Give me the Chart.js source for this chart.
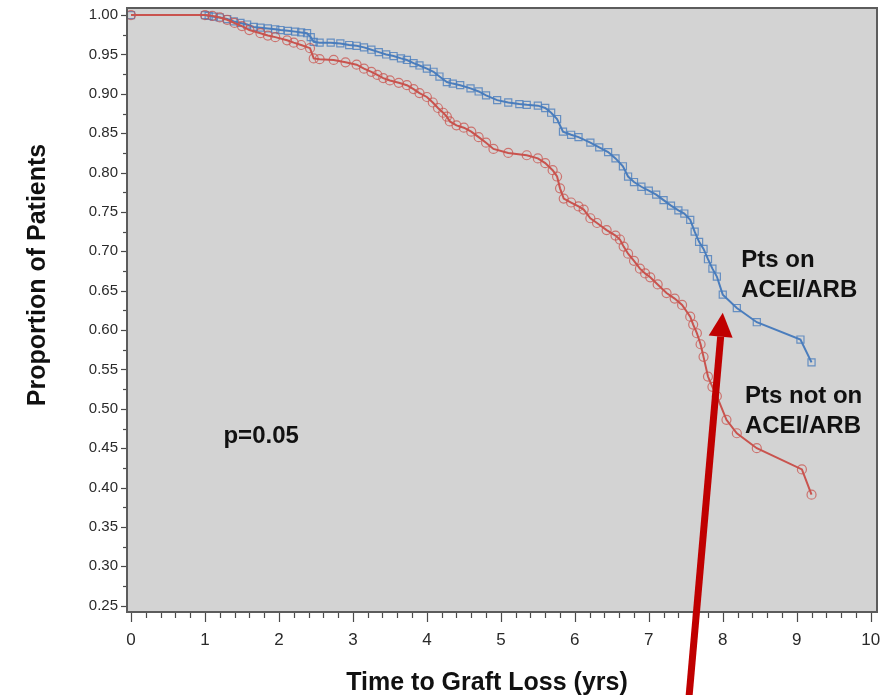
<!DOCTYPE html>
<html>
<head>
<meta charset="utf-8">
<script src="https://cdn.jsdelivr.net/npm/chart.js@4.4.1/dist/chart.umd.min.js"></script>
<style>
  html, body { margin: 0; padding: 0; background: #ffffff; }
  #wrap { width: 884px; height: 695px; position: relative; }
</style>
</head>
<body>
<div id="wrap"><canvas id="kmChart" width="884" height="695"></canvas></div>
<script>
// Kaplan-Meier style curves
const onTimes = [0, 1.0, 1.05, 1.12, 1.2, 1.3, 1.39, 1.48, 1.57, 1.66, 1.75, 1.85, 1.95, 2.02, 2.12, 2.22, 2.3, 2.38, 2.43, 2.47, 2.55, 2.7, 2.83, 2.95, 3.05, 3.15, 3.25, 3.35, 3.45, 3.55, 3.65, 3.73, 3.82, 3.9, 4.0, 4.09, 4.17, 4.27, 4.35, 4.45, 4.59, 4.7, 4.8, 4.95, 5.1, 5.25, 5.35, 5.5, 5.6, 5.68, 5.76, 5.84, 5.95, 6.05, 6.21, 6.33, 6.45, 6.55, 6.65, 6.72, 6.8, 6.9, 7.0, 7.1, 7.2, 7.3, 7.4, 7.48, 7.56, 7.62, 7.68, 7.74, 7.8, 7.86, 7.92, 8.0, 8.19, 8.46, 9.05, 9.2];
const onSurv = [1.0, 1.0, 0.999, 0.998, 0.997, 0.995, 0.992, 0.99, 0.988, 0.985, 0.984, 0.983, 0.982, 0.981, 0.98, 0.979, 0.978, 0.977, 0.972, 0.966, 0.965, 0.965, 0.964, 0.962, 0.961, 0.959, 0.956, 0.953, 0.95, 0.948, 0.945, 0.943, 0.939, 0.936, 0.932, 0.928, 0.922, 0.915, 0.913, 0.911, 0.907, 0.903, 0.898, 0.892, 0.889, 0.887, 0.886, 0.885, 0.882, 0.876, 0.868, 0.852, 0.848, 0.845, 0.838, 0.832, 0.826, 0.818, 0.808, 0.795, 0.788, 0.782, 0.777, 0.772, 0.765, 0.758, 0.752, 0.748, 0.74, 0.725, 0.712, 0.703, 0.69, 0.678, 0.668, 0.645, 0.628, 0.61, 0.588, 0.559];

const offTimes = [0, 1.0, 1.1, 1.2, 1.3, 1.4, 1.5, 1.6, 1.75, 1.85, 1.95, 2.11, 2.2, 2.3, 2.42, 2.47, 2.55, 2.74, 2.9, 3.05, 3.15, 3.25, 3.33, 3.41, 3.5, 3.62, 3.73, 3.82, 3.9, 4.0, 4.08, 4.15, 4.22, 4.27, 4.31, 4.4, 4.5, 4.6, 4.7, 4.8, 4.9, 5.1, 5.35, 5.5, 5.6, 5.7, 5.76, 5.8, 5.85, 5.95, 6.05, 6.12, 6.21, 6.3, 6.43, 6.55, 6.61, 6.66, 6.72, 6.8, 6.88, 6.95, 7.02, 7.12, 7.24, 7.35, 7.45, 7.56, 7.6, 7.65, 7.7, 7.74, 7.8, 7.86, 7.92, 8.05, 8.19, 8.46, 9.07, 9.2];
const offSurv = [1.0, 1.0, 0.999, 0.997, 0.994, 0.99, 0.986, 0.981, 0.977, 0.974, 0.972, 0.968, 0.965, 0.962, 0.958, 0.945, 0.944, 0.943, 0.94, 0.937, 0.932, 0.928, 0.924, 0.92, 0.917, 0.914, 0.911, 0.906, 0.901, 0.896, 0.889, 0.882, 0.876, 0.871, 0.865, 0.86, 0.857, 0.852, 0.845, 0.838, 0.83, 0.825, 0.822, 0.818, 0.812, 0.803, 0.795, 0.78, 0.767, 0.762, 0.757, 0.753, 0.742, 0.736, 0.727, 0.72, 0.715, 0.706, 0.697, 0.688, 0.678, 0.672, 0.667, 0.658, 0.647, 0.64, 0.632, 0.617, 0.607, 0.596, 0.582, 0.566, 0.541, 0.528, 0.516, 0.486, 0.469, 0.45, 0.423, 0.391];

const yTickValues = [0.25, 0.30, 0.35, 0.40, 0.45, 0.50, 0.55, 0.60, 0.65, 0.70, 0.75, 0.80, 0.85, 0.90, 0.95, 1.00];
const xTickValues = [0, 1, 2, 3, 4, 5, 6, 7, 8, 9, 10];

const annotations = [
    { lines: ['Pts on', 'ACEI/ARB'], t: 8.25, s: 0.680 },
    { lines: ['Pts not on', 'ACEI/ARB'], t: 8.30, s: 0.508 },
    { lines: ['p=0.05'], t: 1.25, s: 0.456 }
];

const blue = '#4a7dbd';
const red = '#c9534e';

function toPoints(ts, ss) {
    return ts.map((t, i) => ({ x: t, y: ss[i] }));
}

// Gray plot area, frame, minor/major tick marks, labels and the red arrow
const decorPlugin = {
    id: 'decor',
    beforeDatasetsDraw(chart) {
        const { ctx, chartArea: a } = chart;
        ctx.save();
        ctx.fillStyle = '#d3d3d3';
        ctx.fillRect(a.left, a.top, a.right - a.left, a.bottom - a.top);
        ctx.restore();
    },
    afterDatasetsDraw(chart) {
        const { ctx, chartArea: a, scales } = chart;
        const xs = scales.x, ys = scales.y;
        ctx.save();

        // frame
        ctx.strokeStyle = '#5c5c5c';
        ctx.lineWidth = 2;
        ctx.strokeRect(a.left, a.top, a.right - a.left, a.bottom - a.top);

        // tick marks
        ctx.strokeStyle = '#4a4a4a';
        ctx.lineWidth = 1.2;
        for (let i = 0; i <= 30; i++) {
            const v = 0.25 + i * 0.025;
            const py = Math.round(ys.getPixelForValue(v)) + 0.5;
            const len = i % 2 === 0 ? 5 : 3;
            ctx.beginPath();
            ctx.moveTo(a.left - 1, py);
            ctx.lineTo(a.left - 1 - len, py);
            ctx.stroke();
        }
        for (let i = 0; i <= 50; i++) {
            const px = Math.round(xs.getPixelForValue(i * 0.2)) + 0.5;
            const len = i % 5 === 0 ? 9 : 5;
            ctx.beginPath();
            ctx.moveTo(px, a.bottom + 1);
            ctx.lineTo(px, a.bottom + 1 + len);
            ctx.stroke();
        }

        // tick labels
        ctx.fillStyle = '#2a2a2a';
        ctx.font = "15px 'Liberation Sans', Arial, sans-serif";
        ctx.textAlign = 'right';
        ctx.textBaseline = 'middle';
        yTickValues.forEach(v => {
            ctx.fillText(v.toFixed(2), a.left - 9, ys.getPixelForValue(v));
        });
        ctx.font = "17px 'Liberation Sans Narrow', 'Liberation Sans', Arial, sans-serif";
        ctx.textAlign = 'center';
        ctx.textBaseline = 'top';
        xTickValues.forEach(v => {
            ctx.fillText(String(v), xs.getPixelForValue(v), a.bottom + 20);
        });

        // axis titles
        ctx.fillStyle = '#111';
        ctx.font = "bold 25px 'Liberation Sans', Arial, sans-serif";
        ctx.textAlign = 'center';
        ctx.textBaseline = 'alphabetic';
        ctx.fillText('Time to Graft Loss (yrs)', 487, 690);
        ctx.save();
        ctx.translate(45, 275);
        ctx.rotate(-Math.PI / 2);
        ctx.fillText('Proportion of Patients', 0, 0);
        ctx.restore();

        // curve labels and p value
        ctx.font = "bold 24px 'Liberation Sans', Arial, sans-serif";
        ctx.textAlign = 'left';
        annotations.forEach(an => {
            const px = xs.getPixelForValue(an.t);
            const py = ys.getPixelForValue(an.s);
            an.lines.forEach((line, k) => ctx.fillText(line, px, py + k * 30));
        });

        // red arrow pointing at the ACEI/ARB curve
        const tipX = xs.getPixelForValue(8.0);
        const tipY = ys.getPixelForValue(0.622);
        const tailX = xs.getPixelForValue(7.54);
        const tailY = chart.height + 5;
        const ang = Math.atan2(tipY - tailY, tipX - tailX);
        const headLen = 24, headHalf = 12;
        const baseX = tipX - headLen * Math.cos(ang);
        const baseY = tipY - headLen * Math.sin(ang);
        ctx.strokeStyle = '#c00000';
        ctx.fillStyle = '#c00000';
        ctx.lineWidth = 7;
        ctx.beginPath();
        ctx.moveTo(tailX, tailY);
        ctx.lineTo(baseX, baseY);
        ctx.stroke();
        ctx.beginPath();
        ctx.moveTo(tipX, tipY);
        ctx.lineTo(baseX + headHalf * Math.sin(ang), baseY - headHalf * Math.cos(ang));
        ctx.lineTo(baseX - headHalf * Math.sin(ang), baseY + headHalf * Math.cos(ang));
        ctx.closePath();
        ctx.fill();

        ctx.restore();
    }
};

document.addEventListener('DOMContentLoaded', function() {
    const ctx = document.getElementById('kmChart').getContext('2d');

    new Chart(ctx, {
        type: 'line',
        data: {
            datasets: [
                {
                    label: 'Pts not on ACEI/ARB',
                    data: toPoints(offTimes, offSurv),
                    borderColor: red,
                    borderWidth: 2,
                    pointStyle: 'circle',
                    pointRadius: 4.5,
                    pointBorderWidth: 1.2,
                    pointBorderColor: 'rgba(201,83,78,0.75)',
                    pointBackgroundColor: 'rgba(0,0,0,0)',
                    tension: 0
                },
                {
                    label: 'Pts on ACEI/ARB',
                    data: toPoints(onTimes, onSurv),
                    borderColor: blue,
                    borderWidth: 2,
                    pointStyle: 'rect',
                    pointRadius: 5,
                    pointBorderWidth: 1.2,
                    pointBorderColor: 'rgba(74,125,189,0.8)',
                    pointBackgroundColor: 'rgba(0,0,0,0)',
                    tension: 0
                }
            ]
        },
        options: {
            responsive: false,
            animation: false,
            layout: { padding: { top: 8, right: 7, left: 0, bottom: 0 } },
            plugins: {
                legend: { display: false },
                tooltip: { enabled: false }
            },
            scales: {
                x: {
                    type: 'linear',
                    min: -0.054,
                    max: 10.085,
                    afterFit: scale => { scale.height = 83; },
                    grid: { display: false, drawTicks: false },
                    border: { display: false },
                    ticks: { display: false }
                },
                y: {
                    type: 'linear',
                    min: 0.242,
                    max: 1.009,
                    afterFit: scale => { scale.width = 127; },
                    grid: { display: false, drawTicks: false },
                    border: { display: false },
                    ticks: { display: false }
                }
            }
        },
        plugins: [decorPlugin]
    });
});
</script>
</body>
</html>
